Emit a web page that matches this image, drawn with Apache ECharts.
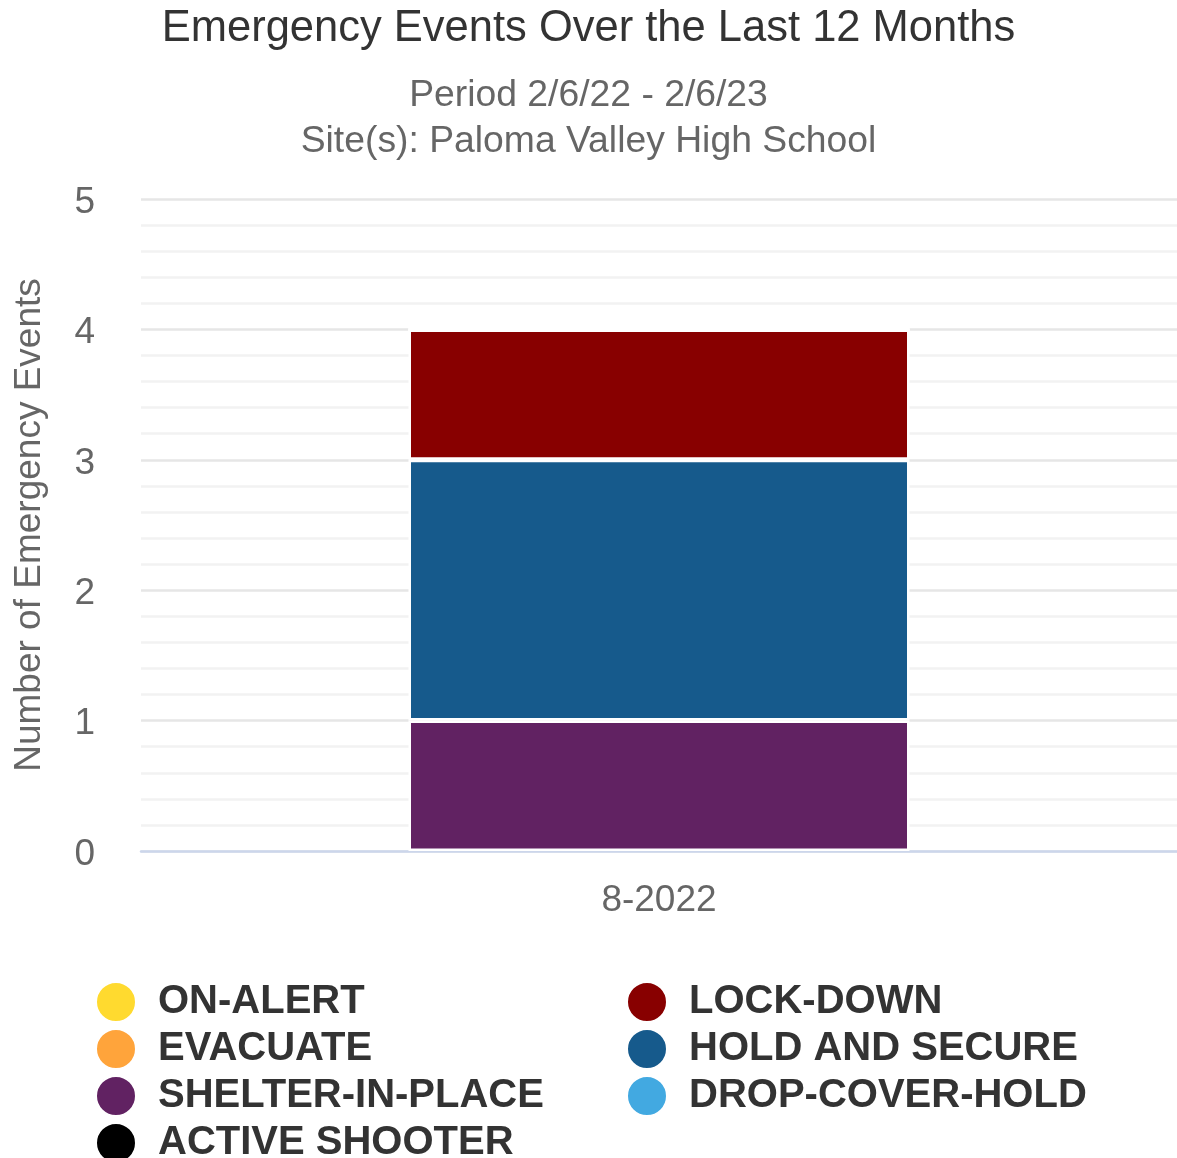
<!DOCTYPE html>
<html>
<head>
<meta charset="utf-8">
<title>Emergency Events Over the Last 12 Months</title>
<script src="https://cdn.jsdelivr.net/npm/echarts@6/dist/echarts.min.js"></script>
<style>
  html, body { margin: 0; padding: 0; background: #fff; }
  #chart { width: 1177px; height: 1158px; }
</style>
</head>
<body>
<div id="chart"></div>
<script>
// data
const categories = ["8-2022"];
const yTicks = [0, 1, 2, 3, 4, 5];

const onAlert = [0];
const evacuate = [0];
const shelterInPlace = [1];
const activeShooter = [0];
const lockDown = [1];
const holdAndSecure = [2];
const dropCoverHold = [0];

const FONT = "'Liberation Sans', Arial, Helvetica, sans-serif";

let myChart = echarts.init(document.getElementById("chart"));

// zero series go last so they sit on top of the stack
function bar(name, values, color) {
  return {
    name: name,
    type: "bar",
    stack: "events",
    data: values,
    barWidth: 501,
    itemStyle: {
      color: color,
      borderColor: "#ffffff",
      borderWidth: 2.5,
    },
  };
}

// two legend columns, like the original
function legendCol(left, names) {
  return {
    orient: "vertical",
    left: left,
    top: 976,
    height: 260,
    icon: "circle",
    itemWidth: 74,
    itemHeight: 40,
    itemGap: 5,
    textStyle: { color: "#333333", fontSize: 40, fontWeight: "bold", fontFamily: FONT },
    data: names,
  };
}

myChart.setOption({
  animation: false,
  textStyle: { fontFamily: FONT },
  title: {
    text: "Emergency Events Over the Last 12 Months",
    subtext: "Period 2/6/22 - 2/6/23\nSite(s): Paloma Valley High School",
    left: "center",
    top: 2,
    itemGap: 22,
    textStyle: {
      color: "#333333",
      fontSize: 43.5,
      fontWeight: "normal",
      fontFamily: FONT,
    },
    subtextStyle: {
      color: "#666666",
      fontSize: 37.3,
      lineHeight: 46,
      fontFamily: FONT,
    },
  },
  grid: {
    left: 141,
    width: 1041,
    top: 199,
    bottom: 307,
    containLabel: false,
  },
  xAxis: {
    type: "category",
    data: categories,
    axisLine: { lineStyle: { color: "#ccd6eb", width: 2.5 } },
    axisTick: { show: false },
    axisLabel: { color: "#666666", fontSize: 37, margin: 31, fontFamily: FONT },
  },
  yAxis: {
    type: "value",
    min: yTicks[0],
    max: yTicks[yTicks.length - 1],
    interval: 1,
    name: "Number of Emergency Events",
    nameLocation: "middle",
    nameGap: 93,
    nameTextStyle: { color: "#666666", fontSize: 37, fontFamily: FONT },
    axisLine: { show: false },
    axisTick: { show: false },
    axisLabel: {
      color: "#666666",
      margin: 46,
      formatter: "{v|{value}}",
      rich: {
        v: { color: "#666666", fontSize: 37, fontFamily: FONT, padding: [7, 0, 0, 0] },
      },
    },
    splitLine: { lineStyle: { color: "#e6e6e6", width: 2.5 } },
    minorTick: { show: false, splitNumber: 5 },
    minorSplitLine: { show: true, lineStyle: { color: "#f2f2f2", width: 2.5 } },
  },
  legend: [
    legendCol(90, ["ON-ALERT", "EVACUATE", "SHELTER-IN-PLACE", "ACTIVE SHOOTER"]),
    legendCol(621, ["LOCK-DOWN", "HOLD AND SECURE", "DROP-COVER-HOLD"]),
  ],
  series: [
    bar("SHELTER-IN-PLACE", shelterInPlace, "#612262"),
    bar("HOLD AND SECURE", holdAndSecure, "#165a8c"),
    bar("LOCK-DOWN", lockDown, "#880000"),
    bar("ON-ALERT", onAlert, "#ffda2f"),
    bar("EVACUATE", evacuate, "#ffa43b"),
    bar("DROP-COVER-HOLD", dropCoverHold, "#42a9e1"),
    bar("ACTIVE SHOOTER", activeShooter, "#000000"),
  ],
});
</script>
</body>
</html>
